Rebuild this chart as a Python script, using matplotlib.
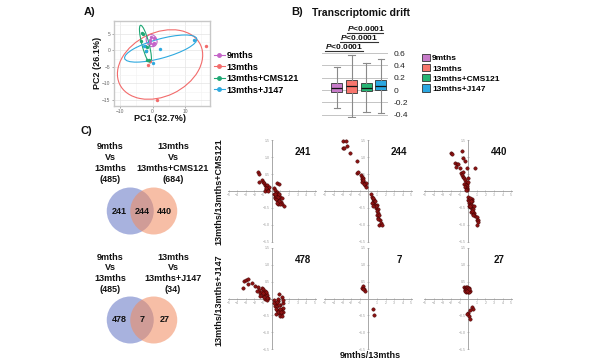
import matplotlib.pyplot as plt
from matplotlib.patches import Ellipse, Circle, Patch
from matplotlib.lines import Line2D
import numpy as np

plt.rcParams['font.family'] = ['Liberation Sans', 'DejaVu Sans']
plt.rcParams['mathtext.fontset'] = 'custom'
plt.rcParams['mathtext.it'] = 'Liberation Sans:italic:bold'
plt.rcParams['mathtext.rm'] = 'Liberation Sans:bold'

# ---- data ----
groups = ['9mths', '13mths', '13mths+CMS121', '13mths+J147']
pca_colors = ['#C464C8', '#F26B6B', '#1FA774', '#2EA9DF']
box_colors = ['#C77BC9', '#F8766D', '#26B574', '#2AA7E1']

pc_9m_x = [-0.5, 0.4, -0.9, 0.0, 0.5, -0.8]
pc_9m_y = [4.0, 3.8, 2.2, 2.0, 2.2, 3.0]
pc_13m_x = [16.4, -1.5, -0.7, 1.5]
pc_13m_y = [1.2, -4.6, -3.1, -14.9]
pc_cms_x = [-3.4, -2.9, -3.7, -2.3, -1.6, -1.9, -1.6, -1.1]
pc_cms_y = [5.2, 5.0, 2.8, 1.2, 1.0, -0.2, -3.0, -3.0]
pc_j147_x = [12.9, 2.4, 0.1, -1.9, -2.6]
pc_j147_y = [3.2, 0.4, -3.7, -0.2, 1.2]

# 95% ellipses: centre x, centre y, width, height, angle
ell_9m = (-0.3, 2.9, 3.2, 3.8, 30)
ell_13m = (2.3, -4.3, 27.6, 19.2, 25)
ell_cms = (-2.2, 1.85, 11.7, 2.2, 105)
ell_j147 = (2.5, 0.5, 23.0, 5.8, 15)

drift_med = [0.03, 0.07, 0.03, 0.07]
drift_q1 = [-0.03, -0.05, -0.02, 0.0]
drift_q3 = [0.12, 0.16, 0.12, 0.16]
drift_lo = [-0.29, -0.44, -0.35, -0.38]
drift_hi = [0.38, 0.57, 0.44, 0.51]
sig_text = ['P<0.0001', 'P<0.0001', 'P<0.0001']

venn_top_titles = ['9mths\nVs\n13mths\n(485)', '13mths\nVs\n13mths+CMS121\n(684)']
venn_top_counts = [241, 244, 440]
venn_bot_titles = ['9mths\nVs\n13mths\n(485)', '13mths\nVs\n13mths+J147\n(34)']
venn_bot_counts = [478, 7, 27]

sc_241_x = [-1.54, -1.42, -1.5, -1.12, -0.96, -0.85, -0.77, -0.65, -0.58, -0.42, -0.5, -0.65, -0.42, -0.8,
            -0.55, -0.35, -0.7, -0.45,
            0.27, 0.38, 0.3, 0.58, 0.65, 0.88, 0.5, 0.77, 0.96, 0.65, 0.88, 1.15, 1.04, 1.15, 1.42, 0.38,
            0.58, 0.77, 0.96, 0.46, 0.69, 0.35, 0.45, 0.55, 0.7, 0.8, 0.6, 0.42, 0.9]
sc_241_y = [0.57, 0.5, 0.28, 0.34, 0.28, 0.24, 0.18, 0.14, 0.11, 0.09, 0.18, 0.05, 0.02, 0.01,
            0.06, 0.12, 0.1, 0.0,
            0.09, 0.02, -0.08, -0.03, 0.24, 0.22, -0.12, -0.12, -0.17, -0.22, -0.27, -0.22, -0.32, -0.37,
            -0.43, -0.17, -0.27, -0.37, -0.39, -0.05, -0.08, -0.2, -0.25, -0.15, -0.18, -0.3, -0.35, -0.1, -0.1]

sc_244_x = [-3.0, -2.6, -3.0, -2.77, -2.5, -2.15, -1.35, -1.31, -1.15, -0.85, -0.77, -0.69, -0.58, -0.46,
            -0.38, -0.27, -0.58, -0.77, -0.31, -0.5, -0.65,
            0.38, 0.5, 0.58, 0.69, 0.77, 0.96, 0.85, 1.08, 0.96, 1.15, 0.96, 1.15, 1.35, 1.46, 1.27, 1.54,
            1.08, 0.69, 0.46, 1.27, 0.3, 0.55, 0.75, 0.9, 0.6]
sc_244_y = [1.48, 1.48, 1.28, 1.28, 1.33, 1.11, 0.88, 0.53, 0.55, 0.48, 0.41, 0.35, 0.3, 0.25,
            0.18, 0.13, 0.38, 0.28, 0.23, 0.2, 0.32,
            -0.17, -0.24, -0.32, -0.37, -0.42, -0.42, -0.5, -0.52, -0.6, -0.64, -0.72, -0.8, -0.87, -0.94,
            -1.0, -1.02, -0.82, -0.27, -0.35, -0.72, -0.1, -0.2, -0.3, -0.45, -0.45]

sc_440_x = [-2.0, -1.92, -0.69, -0.58, -0.38, -1.54, -1.35, -1.15, -1.42, -0.96, -0.85, -0.58, -0.19, 0.77,
            -0.77, -0.58, -0.46, -0.38, -0.31, -0.19, -0.46, -0.27, -0.12, -0.38, -0.19, -0.08, 0.0,
            -0.2, -0.1, -0.3,
            0.0, 0.19, 0.38, -0.08, 0.12, 0.31, 0.46, 0.19, 0.38, 0.58, 0.5, 0.69, 0.77, 1.04, 0.96, 1.15,
            1.08, 1.04, 0.58, 0.31, 0.08, 0.46, 0.69, 0.05, 0.25, 0.4, 0.15, 0.3, 0.55]
sc_440_y = [1.12, 1.09, 1.17, 0.97, 0.9, 0.82, 0.8, 0.79, 0.72, 0.67, 0.52, 0.57, 0.67, 0.69,
            0.47, 0.42, 0.37, 0.32, 0.27, 0.22, 0.22, 0.17, 0.15, 0.12, 0.09, 0.27, 0.37,
            0.05, 0.02, 0.04,
            -0.18, -0.23, -0.25, -0.28, -0.35, -0.38, -0.43, -0.48, -0.53, -0.53, -0.61, -0.65, -0.73, -0.78,
            -0.86, -0.85, -0.93, -1.0, -0.68, -0.63, -0.43, -0.31, -0.43, -0.3, -0.45, -0.58, -0.2, -0.3, -0.7]

sc_478_x = [-3.2, -2.96, -2.7, -2.8, -2.3, -3.35, -1.92, -1.54, -1.42, -1.35, -1.15, -0.96, -0.77, -0.65,
            -0.88, -0.58, -0.38, -1.04, -0.77, -0.5, -1.15, -1.35, -1.73, -0.6, -0.9, -0.7, -1.0,
            0.27, 0.5, 0.77, 0.88, 1.15, 0.38, 0.65, 0.96, 1.27, 0.58, 0.88, 1.15, 1.35, 0.77, 1.04, 1.27,
            0.96, 1.23, 0.31, 0.69, 1.35, 0.45, 0.6, 0.8, 1.0, 0.7, 0.55, 1.1]
sc_478_y = [0.52, 0.54, 0.57, 0.42, 0.47, 0.32, 0.37, 0.35, 0.25, 0.17, 0.32, 0.27, 0.22, 0.15,
            0.12, 0.09, 0.02, 0.07, -0.01, -0.05, 0.19, 0.07, 0.22, 0.02, 0.05, 0.2, 0.15,
            -0.03, -0.13, -0.08, 0.12, 0.05, -0.23, -0.23, -0.18, -0.13, -0.33, -0.33, -0.31, -0.28, -0.43,
            -0.45, -0.41, -0.53, -0.51, -0.13, -0.01, -0.03, -0.3, -0.1, -0.2, -0.3, -0.4, -0.45, -0.4]

sc_7_x = [-0.73, -0.58, -0.46, -0.35, -0.62, 0.5, 0.69]
sc_7_y = [0.32, 0.37, 0.27, 0.22, 0.28, -0.31, -0.48]

sc_27_x = [-0.46, -0.4, -0.3, -0.2, -0.1, 0.0, 0.1, 0.15, -0.35, -0.25, -0.15, -0.05, 0.05, -0.4,
           -0.3, -0.2, -0.1, 0.0, 0.12, -0.2, 0.38, 0.5, 0.19, 0.0, -0.19, 0.12, 0.19]
sc_27_y = [0.35, 0.3, 0.33, 0.28, 0.32, 0.25, 0.3, 0.22, 0.25, 0.2, 0.24, 0.2, 0.19, 0.22,
           0.28, 0.33, 0.27, 0.31, 0.27, 0.22, -0.26, -0.31, -0.35, -0.43, -0.45, -0.51, -0.61]

scatter_sets = [[(sc_241_x, sc_241_y, '241'), (sc_244_x, sc_244_y, '244'), (sc_440_x, sc_440_y, '440')],
                [(sc_478_x, sc_478_y, '478'), (sc_7_x, sc_7_y, '7'), (sc_27_x, sc_27_y, '27')]]
row_ylabels = ['13mths/13mths+CMS121', '13mths/13mths+J147']

# ---- layout helpers (pixel boxes in a 600x360 figure) ----
W, H = 600, 360


def rect(l, t, r, b):
    return [l / W, 1 - b / H, (r - l) / W, (b - t) / H]


def ftext(x, y, s, **kw):
    fig.text(x / W, 1 - y / H, s, **kw)


fig = plt.figure(figsize=(6, 3.6), dpi=100)
bold = dict(weight='bold', color='#111111')

# ---- A) PCA ----
ftext(90, 12, 'A)', fontsize=8, ha='center', va='center', **bold)
ax = fig.add_axes(rect(114, 21, 210, 106))
pts = [(pc_9m_x, pc_9m_y, ell_9m), (pc_13m_x, pc_13m_y, ell_13m),
       (pc_cms_x, pc_cms_y, ell_cms), (pc_j147_x, pc_j147_y, ell_j147)]
for (xs, ys, e), col in zip(pts, pca_colors):
    ax.scatter(xs, ys, s=6, color=col, zorder=3, linewidths=0)
    ax.add_patch(Ellipse((e[0], e[1]), e[2], e[3], angle=e[4], fill=False,
                         edgecolor=col, lw=0.8, zorder=2))
ax.set_xlim(-11.9, 17.7)
ax.set_ylim(-16.8, 8.8)
ax.set_xticks([-10, 0, 10])
ax.set_yticks([5, 0, -5, -10, -15])
ax.set_xticks([-5, 5, 15], minor=True)
ax.set_yticks([7.5, 2.5, -2.5, -7.5, -12.5], minor=True)
ax.grid(which='major', color='#e4e4e4', lw=0.5)
ax.grid(which='minor', color='#f2f2f2', lw=0.4)
ax.set_axisbelow(True)
ax.tick_params(labelsize=3.5, length=1.5, width=0.4, colors='#666666', pad=1)
ax.tick_params(which='minor', length=0)
for sp in ax.spines.values():
    sp.set_color('#c8c8c8')
    sp.set_linewidth(1.0)
ftext(160, 118.5, 'PC1 (32.7%)', fontsize=6.5, ha='center', va='center', **bold)
ftext(98, 63, 'PC2 (26.1%)', fontsize=6.5, ha='center', va='center', rotation=90, **bold)
handles = [Line2D([0], [0], color=c, marker='o', ms=2.5, lw=0.8) for c in pca_colors]
fig.legend(handles, groups, loc='upper left', bbox_to_anchor=(214 / W, 1 - 51 / H),
           frameon=False, prop=dict(size=6.5, weight='bold'), handlelength=1.2,
           handletextpad=0.2, labelspacing=0.28, borderpad=0, borderaxespad=0)

# ---- B) transcriptomic drift ----
ftext(297, 12, 'B)', fontsize=8, ha='center', va='center', **bold)
ftext(312, 13, 'Transcriptomic drift', fontsize=7.5, ha='left', va='center', **bold)
axb = fig.add_axes(rect(322, 51.9, 388, 117.7))
stats = [dict(med=m, q1=a, q3=b, whislo=lo, whishi=hi, label=g)
         for m, a, b, lo, hi, g in zip(drift_med, drift_q1, drift_q3, drift_lo, drift_hi, groups)]
bp = axb.bxp(stats, positions=[1, 2, 3, 4], widths=0.75, patch_artist=True, showfliers=False,
             capwidths=0.45,
             boxprops=dict(edgecolor='#333333', lw=0.6),
             medianprops=dict(color='#111111', lw=0.9),
             whiskerprops=dict(color='#8a8a8a', lw=0.8),
             capprops=dict(color='#8a8a8a', lw=0.8))
for patch, c in zip(bp['boxes'], box_colors):
    patch.set_facecolor(c)
axb.set_xlim(-0.02, 4.48)
axb.set_ylim(-0.45, 0.62)
axb.set_yticks([0.6, 0.4, 0.2, 0, -0.2, -0.4])
axb.set_yticklabels(['0.6', '0.4', '0.2', '0', '-0.2', '-0.4'])
axb.yaxis.tick_right()
axb.tick_params(axis='y', length=0, labelsize=6, pad=4, colors='#222222')
axb.set_xticks([])
axb.grid(axis='y', color='#c4c4c4', lw=0.7)
axb.set_axisbelow(True)
for sp in axb.spines.values():
    sp.set_visible(False)
sig_spans = [(0.18, 2.77, 0.63), (1.2, 3.79, 0.78), (1.68, 4.13, 0.93)]
for (x0, x1, y), s in zip(sig_spans, sig_text):
    axb.plot([x0, x1], [y, y], color='#333333', lw=0.8, clip_on=False)
    axb.text(x0, y + 0.005, '$P$' + s[1:], fontsize=6, ha='left', va='bottom', **bold)
bhandles = [Patch(facecolor=c, edgecolor='#333333', lw=0.6) for c in box_colors]
fig.legend(bhandles, groups, loc='upper left', bbox_to_anchor=(422 / W, 1 - 54 / H),
           frameon=False, prop=dict(size=6, weight='bold'), handlelength=0.9, handleheight=0.95,
           handletextpad=0.3, labelspacing=0.2, borderpad=0, borderaxespad=0)

# ---- C) Venn diagrams ----
ftext(86, 131, 'C)', fontsize=8, ha='center', va='center', **bold)
for titles, counts, ytop, yc in [(venn_top_titles, venn_top_counts, 142.5, 211),
                                 (venn_bot_titles, venn_bot_counts, 252.5, 320)]:
    ftext(110, ytop, titles[0], fontsize=6.5, ha='center', va='top', linespacing=1.25, **bold)
    ftext(173, ytop, titles[1], fontsize=6.5, ha='center', va='top', linespacing=1.25, **bold)
    r = 23.5
    axv = fig.add_axes(rect(142 - 2 * r, yc - 1.1 * r, 142 + 2 * r, yc + 1.1 * r))
    axv.set_xlim(-2, 2)
    axv.set_ylim(-1.1, 1.1)
    axv.axis('off')
    axv.add_patch(Circle((-0.5, 0), 1, facecolor='#6f7fc9', alpha=0.6, lw=0))
    axv.add_patch(Circle((0.5, 0), 1, facecolor='#f28a5e', alpha=0.55, lw=0))
    for xpos, n in zip([-0.98, 0.0, 0.96], counts):
        axv.text(xpos, 0, str(n), fontsize=6.5, ha='center', va='center', **bold)

# ---- C) fold-change scatter grid ----
col_x0 = [271.7, 368.3, 468.3]
row_y0 = [191, 298.5]
hw, hh = 5.1 * 8.6, 1.5 * 33.8
for i in range(2):
    for j in range(3):
        xs, ys, lab = scatter_sets[i][j]
        a = fig.add_axes(rect(col_x0[j] - hw, row_y0[i] - hh, col_x0[j] + hw, row_y0[i] + hh))
        a.set_xlim(-5.1, 5.1)
        a.set_ylim(-1.5, 1.5)
        a.patch.set_alpha(0)
        for side in ['top', 'right']:
            a.spines[side].set_visible(False)
        for side in ['left', 'bottom']:
            a.spines[side].set_position(('data', 0))
            a.spines[side].set_color('#9a9a9a')
            a.spines[side].set_linewidth(0.6)
        a.set_xticks([-5, -4, -3, -2, -1, 1, 2, 3, 4, 5])
        a.set_yticks([-1.5, -1, -0.5, 0.5, 1, 1.5])
        a.tick_params(length=1.5, width=0.4, colors='#9a9a9a', labelsize=2.5, pad=0.8,
                      direction='inout')
        a.scatter(xs, ys, s=6, color='#8B1212', edgecolors='#3a0000', linewidths=0.3, zorder=3,
                  clip_on=False)
        a.text(3.6, 1.15, lab, fontsize=7, ha='center', va='center', **bold)
for y, lab in zip([192, 300], row_ylabels):
    ftext(219, y, lab, fontsize=6.5, rotation=90, ha='center', va='center', **bold)
ftext(370, 355, '9mths/13mths', fontsize=6.5, ha='center', va='center', **bold)

fig.savefig('out.png', dpi=100)
